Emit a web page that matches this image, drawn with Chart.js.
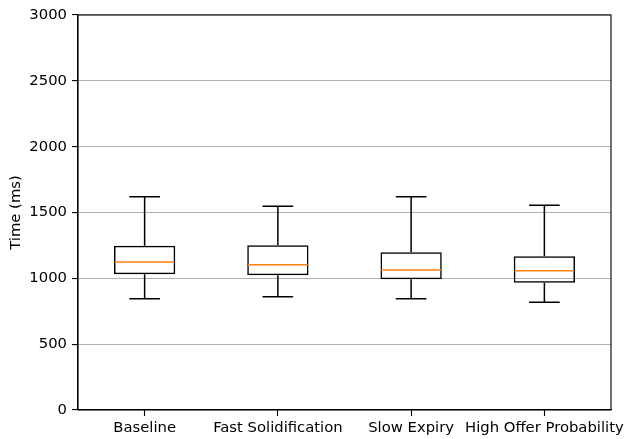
<!DOCTYPE html>
<html>
<head>
<meta charset="utf-8">
<script src="https://cdn.jsdelivr.net/npm/chart.js@4/dist/chart.umd.min.js"></script>
<style>
  html, body { margin: 0; padding: 0; background: #fff; }
  #wrap { width: 624px; height: 439px; }
</style>
</head>
<body>
<div id="wrap"><canvas id="c" width="624" height="439"></canvas></div>
<script>
// Response-time distributions per scenario (ms)
const categories  = ['Baseline', 'Fast Solidification', 'Slow Expiry', 'High Offer Probability'];
const whiskerLow  = [845, 861, 845, 818];
const q1          = [1031, 1023, 993, 967];
const median      = [1124, 1104, 1063, 1058];
const q3          = [1248, 1251, 1198, 1167];
const whiskerHigh = [1620, 1547, 1620, 1555];
const yTicks      = [0, 500, 1000, 1500, 2000, 2500, 3000];

const FONT = "'DejaVu Sans', sans-serif";
const FS = 14.8;
const LW = 1.5;

// Whiskers, caps, medians and the axes frame, placed through the chart's scales
const boxExtras = {
  id: 'boxExtras',
  afterDatasetsDraw(chart) {
    const {ctx, scales: {x, y}, chartArea: a} = chart;
    const meta = chart.getDatasetMeta(0);
    ctx.save();
    ctx.lineCap = 'butt';
    categories.forEach((cat, i) => {
      const cx = x.getPixelForValue(i);
      const bar = meta.data[i];
      const half = bar.width / 2;
      const capHalf = half / 2;
      const yLo = y.getPixelForValue(whiskerLow[i]);
      const yQ1 = y.getPixelForValue(q1[i]);
      const yQ3 = y.getPixelForValue(q3[i]);
      const yHi = y.getPixelForValue(whiskerHigh[i]);
      const yMed = y.getPixelForValue(median[i]);
      ctx.strokeStyle = '#000';
      ctx.lineWidth = LW;
      ctx.beginPath();
      ctx.moveTo(cx, yQ1); ctx.lineTo(cx, yLo);
      ctx.moveTo(cx, yQ3); ctx.lineTo(cx, yHi);
      ctx.moveTo(cx - capHalf, yLo); ctx.lineTo(cx + capHalf, yLo);
      ctx.moveTo(cx - capHalf, yHi); ctx.lineTo(cx + capHalf, yHi);
      ctx.stroke();
      ctx.strokeStyle = '#ff7f0e';
      ctx.beginPath();
      ctx.moveTo(cx - half + LW / 2, yMed); ctx.lineTo(cx + half - LW / 2, yMed);
      ctx.stroke();
    });
    ctx.strokeStyle = '#000';
    ctx.lineWidth = 1.1;
    ctx.strokeRect(a.left, a.top, a.right - a.left, a.bottom - a.top);
    ctx.restore();
  }
};

new Chart(document.getElementById('c'), {
  type: 'bar',
  data: {
    labels: categories,
    datasets: [{
      data: q1.map((v, i) => [v, q3[i]]),
      backgroundColor: 'rgba(0,0,0,0)',
      borderColor: '#000',
      borderWidth: LW,
      borderSkipped: false,
      barPercentage: 0.46,
      categoryPercentage: 1.0
    }]
  },
  options: {
    responsive: false,
    animation: false,
    layout: { padding: { left: 0, right: 13, top: 15, bottom: 0 } },
    plugins: { legend: { display: false }, tooltip: { enabled: false } },
    scales: {
      x: {
        offset: true,
        grid: { display: true, drawOnChartArea: false, offset: false, tickLength: 6, tickColor: '#000', tickWidth: 1.1 },
        border: { display: true, color: '#000', width: 1.1 },
        ticks: { color: '#000', font: { family: FONT, size: FS }, padding: 3, maxRotation: 0, autoSkip: false },
        afterFit(s) { s.height = 29; s.paddingLeft = 0; s.paddingRight = 0; }
      },
      y: {
        min: 0,
        max: 3000,
        afterBuildTicks(s) { s.ticks = yTicks.map(v => ({ value: v })); },
        grid: { color: '#b0b0b0', lineWidth: 1.1, tickLength: 6, tickColor: '#000', tickWidth: 1.1 },
        border: { display: true, color: '#000', width: 1.1 },
        ticks: { color: '#000', font: { family: FONT, size: FS }, padding: 5, callback: v => String(v) },
        title: { display: true, text: 'Time (ms)', color: '#000', font: { family: FONT, size: FS }, padding: { top: 7, bottom: 0 } },
        afterFit(s) { s.width = 78; s.paddingTop = 0; s.paddingBottom = 0; }
      }
    }
  },
  plugins: [boxExtras]
});
</script>
</body>
</html>
